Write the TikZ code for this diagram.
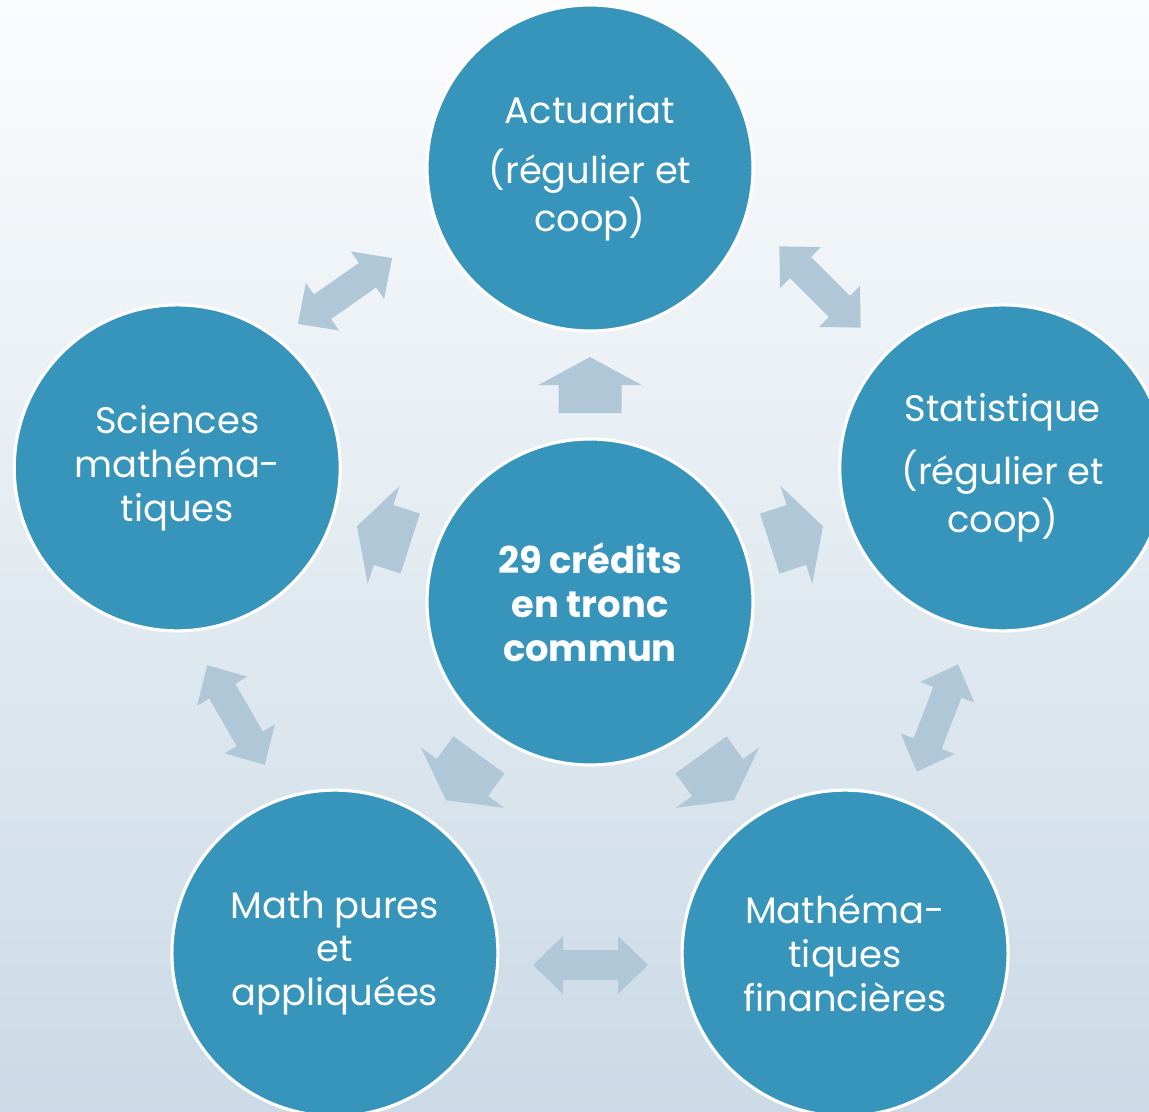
\documentclass[tikz,border=0pt]{standalone}
\usepackage{fontspec}
\setmainfont{Poppins}
\usepackage{xcolor}
\usetikzlibrary{calc}
\definecolor{disc}{HTML}{3795BC}
\definecolor{flow}{HTML}{B0C7D8}
\definecolor{bgtop}{HTML}{FBFCFD}
\definecolor{bgbot}{HTML}{CBDAE6}
\tikzset{
  inarrow/.pic={\fill[flow] (-0.28,-0.315) -- (0,-0.315) -- (0,-0.515) -- (0.28,0)
      -- (0,0.515) -- (0,0.315) -- (-0.28,0.315) -- cycle;},
  biarrow/.pic={\fill[flow] (-0.575,0) -- (-0.275,0.29) -- (-0.275,0.15) -- (0.275,0.15)
      -- (0.275,0.29) -- (0.575,0) -- (0.275,-0.29) -- (0.275,-0.15) -- (-0.275,-0.15)
      -- (-0.275,-0.29) -- cycle;}
}
\begin{document}
\begin{tikzpicture}[disk/.style={circle, fill=disc, draw=white, line width=0.9pt,
    minimum size=3.26cm, inner sep=0pt, text=white, align=center,
    font=\fontsize{10.5pt}{12.5pt}\selectfont}]
    \clip (-5.90,-5.09) rectangle (5.59,6.02);
    \fill[top color=bgtop, bottom color=bgbot] (-5.90,-5.09) rectangle (5.59,6.02);
    \node [disk, font=\bfseries\fontsize{10.5pt}{12.5pt}\selectfont] (tronc) at (0,0)
      {29 crédits\\en tronc\\commun};
    \node [disk] (act) at (90:4.34) {Actuariat\\[4.5pt](régulier et\\coop)};
    \node [disk] (stat) at (18:4.34) {Statistique\\[4.5pt](régulier et\\coop)};
    \node [disk] (fin) at (306:4.34) {Mathéma-\\tiques\\financières};
    \node [disk] (pures) at (234:4.34) {Math pures\\et\\appliquées};
    \node [disk] (sci) at (162:4.34) {Sciences\\mathéma-\\tiques};
    \foreach \n/\a in {act/90, stat/18, fin/306, pures/234, sci/162}
      \pic [rotate=\a] at ($(tronc)!0.5!(\n)$) {inarrow};
    \pic [rotate=35] at (-2.45,3.11) {biarrow};
    \pic [rotate=-45] at (2.30,3.15) {biarrow};
    \pic [rotate=69] at (3.475,-1.16) {biarrow};
    \pic at (0.005,-3.63) {biarrow};
    \pic [rotate=120] at (-3.54,-1.13) {biarrow};
\end{tikzpicture}
\end{document}
